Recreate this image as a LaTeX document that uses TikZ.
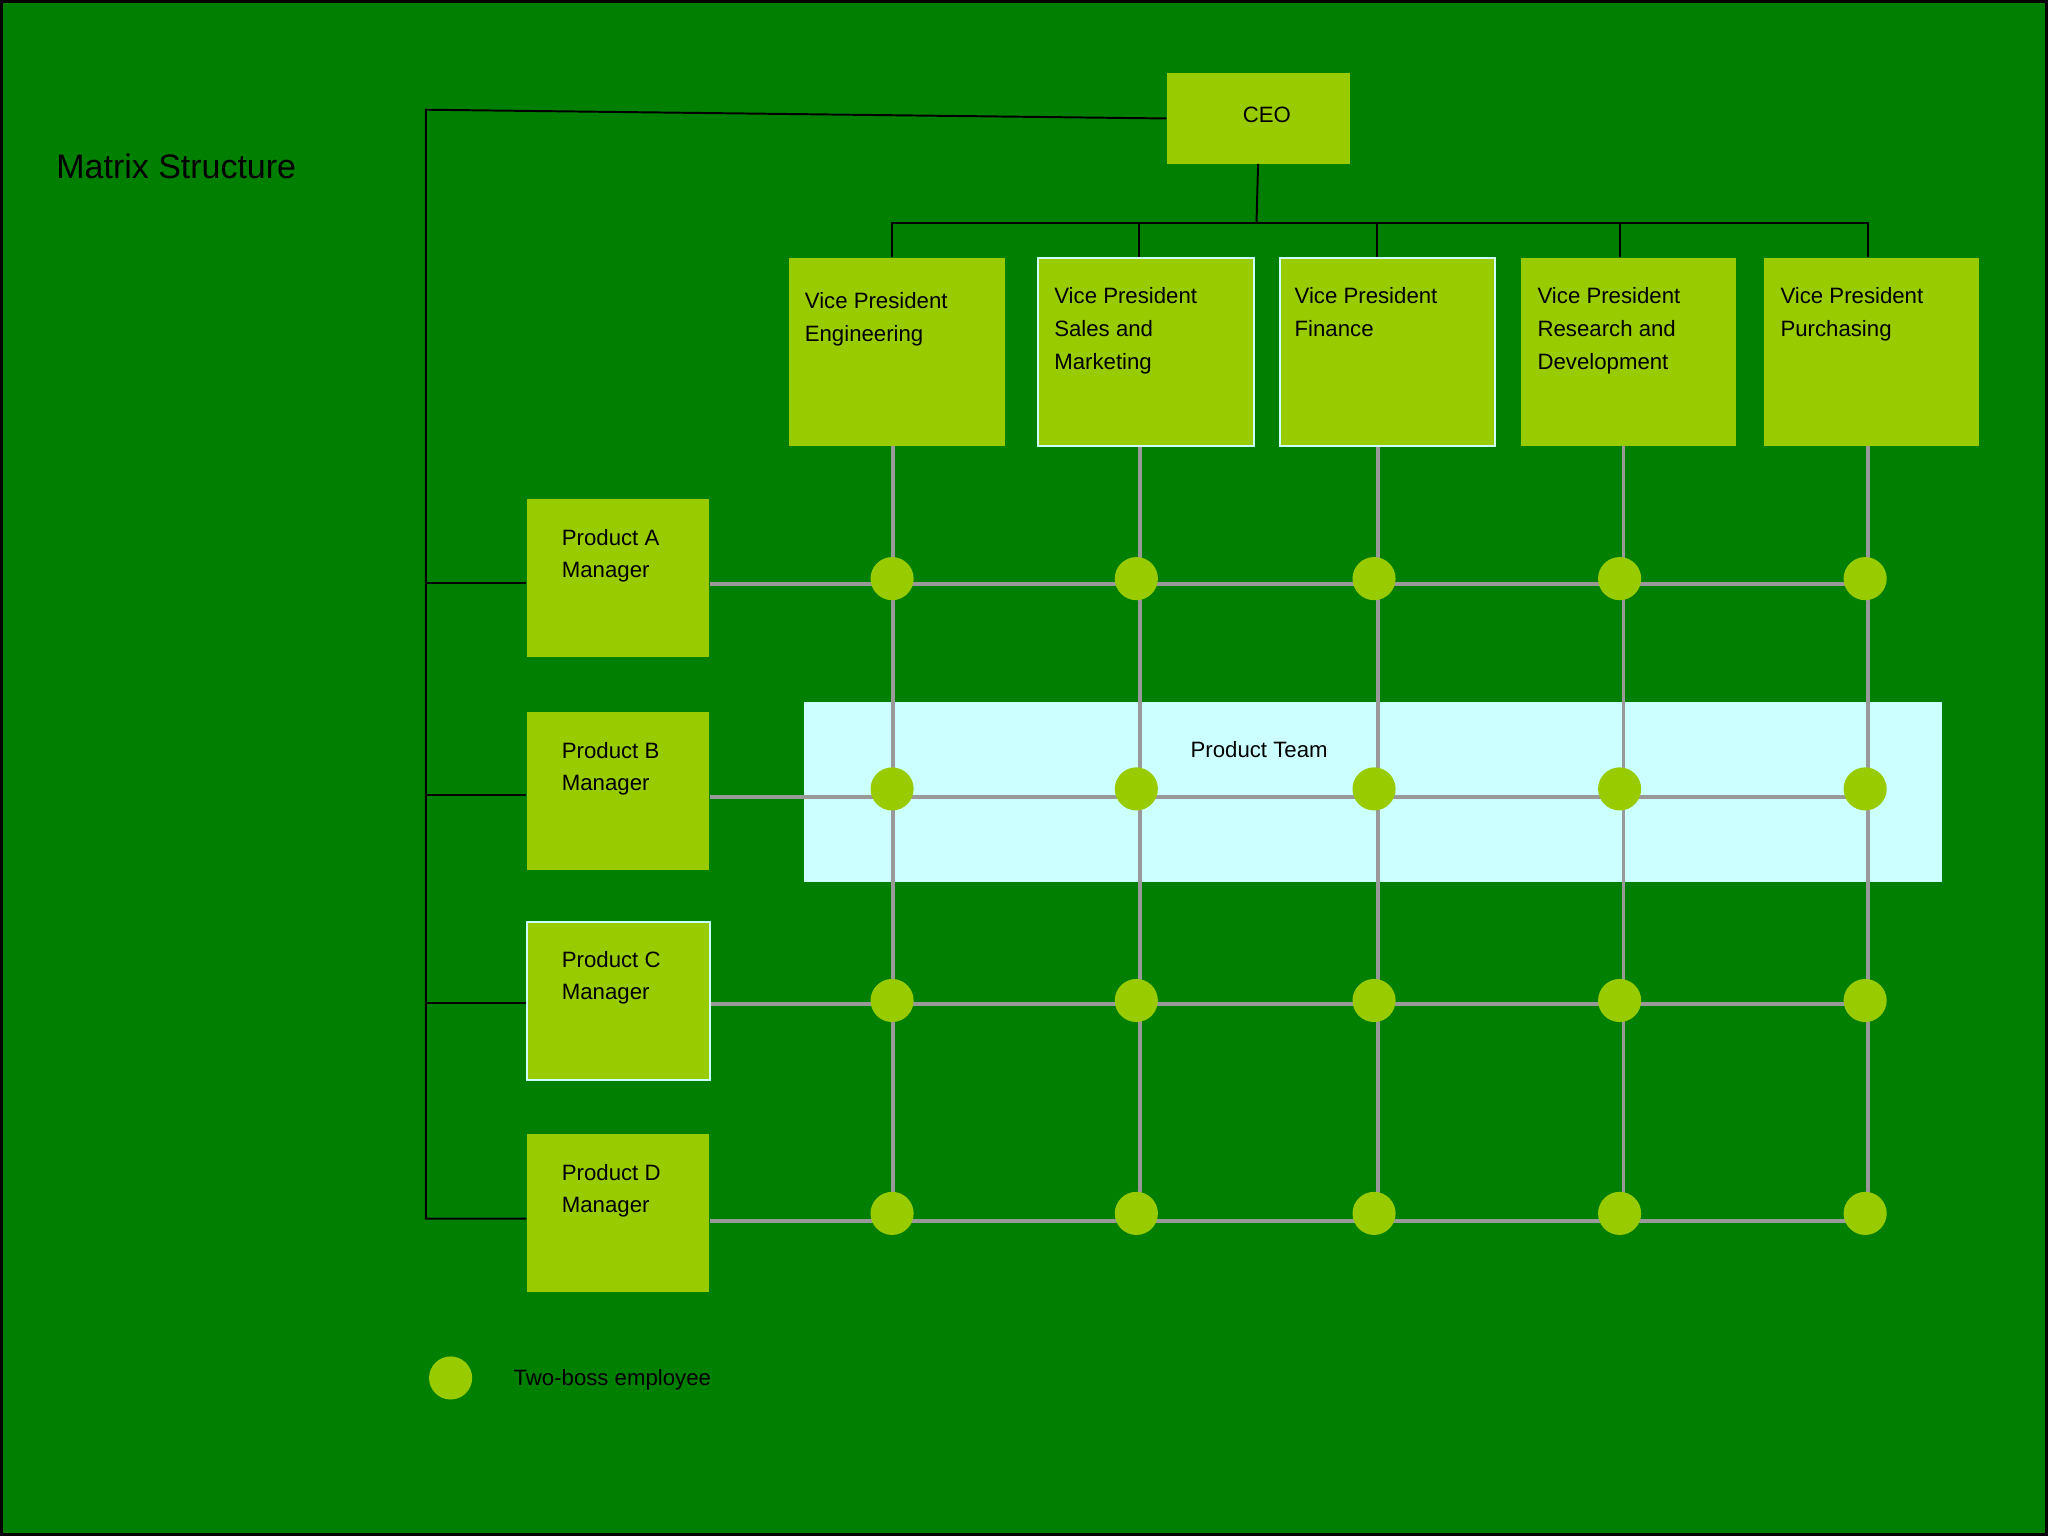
\documentclass[tikz,border=0pt]{standalone}
\usepackage{fontspec}
\setmainfont{Liberation Sans}
\definecolor{bg}{HTML}{007F00}
\definecolor{lime}{HTML}{99CC00}
\definecolor{cy}{HTML}{CCFFFF}
\definecolor{gr}{HTML}{999999}
\begin{document}
\begin{tikzpicture}[x=1pt,y=-1pt,
 box/.style={fill=lime,draw=none,inner sep=0,anchor=north west},
 cbox/.style={box,draw=cy,line width=1.5},
 lbl/.style={align=left,anchor=north west,font=\fontsize{17}{25}\selectfont,inner sep=0},
 tree/.style={draw=black,line width=1.5},
 grid/.style={draw=gr,line width=3},
 dot/.style={circle,fill=lime,minimum size=33,inner sep=0}]
\fill[bg,draw=black,line width=2] (1,1) rectangle (1567,1175);
\useasboundingbox (0,0) rectangle (1568,1176);
\node[anchor=west,font=\fontsize{26}{30}\selectfont,inner sep=0] (title) at (43,127) {Matrix Structure};
% product team band
\node[fill=cy,minimum width=872,minimum height=138,inner sep=0,anchor=north west] (team) at (615,537) {};
\node[font=\fontsize{17}{20}\selectfont] (teamlbl) at (964,574) {Product Team};
% CEO
\node[box,minimum width=140,minimum height=69] (ceo) at (893,56) {};
\node[font=\fontsize{17}{20}\selectfont] at (970,88) {CEO};
% VPs
\foreach \n/\x/\s in {v1/604/box,v2/794/cbox,v3/979/cbox,v4/1164/box,v5/1350/box}
  \node[\s,minimum width=165,minimum height=144] (\n) at (\x,197) {};
\node[lbl] at (616,224) {Vice President\\Engineering};
\node[lbl] at (807,220) {Vice President\\Sales and\\Marketing};
\node[lbl] at (991,220) {Vice President\\Finance};
\node[lbl] at (1177,220) {Vice President\\Research and\\Development};
\node[lbl] at (1363,220) {Vice President\\Purchasing};
% products
\foreach \n/\y/\s/\t in {pa/382/box/A,pb/545/box/B,pc/705/cbox/C,pd/868/box/D}{
  \node[\s,minimum width=140,minimum height=121] (\n) at (403,\y) {};
  \node[lbl] at (430,\y+23) {Product \t\\Manager};
}
% tree lines
\coordinate (tj) at (962,171);
\draw[tree] (ceo.south) -- (tj);
\draw[tree] (683,197) -- (683,171) -- (1430,171) -- (1430,197);
\foreach \x in {872,1054,1240} \draw[tree] (\x,171) -- (\x,197);
\draw[tree] (ceo.west) -- (326,84) -- (326,933) -- (pd.west|-0,933);
\foreach \y in {446,609,768} \draw[tree] (326,\y) -- (403,\y);
% grid
\foreach \x/\n in {684/v1,873/v2,1055/v3,1243/v4,1430/v5}
  \draw[grid] (\n.south-|\x,0) -- (\x,935);
\foreach \y/\n in {447/pa,610/pb,769/pc,935/pd}
  \draw[grid] (\n.east|-0,\y) -- (1430,\y);
% dots
\foreach \x in {683,870,1052,1240,1428}
  \foreach \y in {443,604,766,929}
    \node[dot] at (\x,\y) {};
\node[dot] (leg) at (345,1055) {};
\node[anchor=west,font=\fontsize{17}{20}\selectfont,inner sep=0] at (393,1056) {Two-boss employee};
\end{tikzpicture}
\end{document}
